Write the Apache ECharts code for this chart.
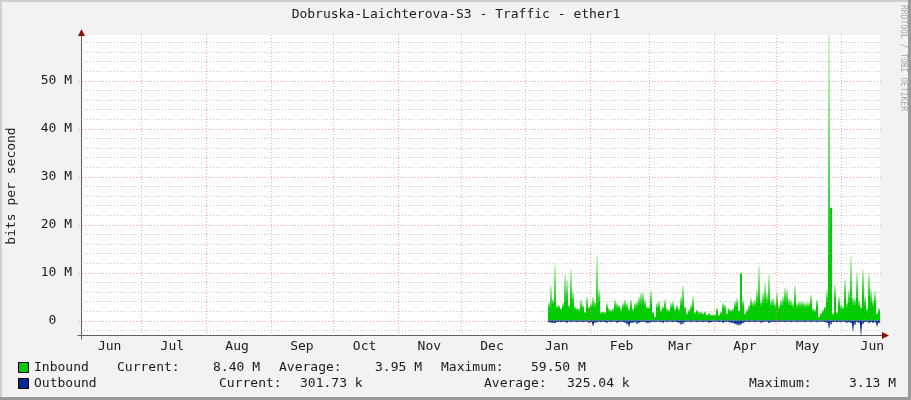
<!DOCTYPE html>
<html><head><meta charset="utf-8">
<script src="https://cdn.jsdelivr.net/npm/echarts@6/dist/echarts.min.js"></script>
<style>html,body{margin:0;padding:0;background:#f2f2f2;}#chart{width:911px;height:400px;}</style>
</head><body><div id="chart"></div>
<script>
// ---------- texts ----------
const chartTitle = 'Dobruska-Laichterova-S3 - Traffic - ether1';
const yAxisTitle = 'bits per second';
const watermark = 'RRDTOOL / TOBI OETIKER';
const monthLabels = ['Jun','Jul','Aug','Sep','Oct','Nov','Dec','Jan','Feb','Mar','Apr','May','Jun'];
const firstLabelYear = 2022, firstLabelMonth = 5; // June 2022, 0-based month

// ---------- axes ----------
const axisStart = Date.UTC(2022, 5, 2, 7);
const axisEnd = Date.UTC(2023, 5, 19, 16);
const yMin = -3, yMax = 59.5;            // in M bits/s
const yMajorTicks = [0, 10, 20, 30, 40, 50];
const yMinorTicks = [-2, 2, 4, 6, 8, 12, 14, 16, 18, 22, 24, 26, 28, 32, 34, 36, 38, 42, 44, 46, 48, 52, 54, 56, 58];

// ---------- samples (M bits/s) ----------
const sampleStart = Date.UTC(2023, 0, 11, 19);
const sampleStepHours = 23;
const inboundPeak = [3.8,7.3,4.5,11.6,3.2,3.3,2.6,3.7,9.6,8.5,3.3,10.6,6.1,3.0,2.6,2.6,4.4,3.3,1.9,5.0,3.0,3.7,5.0,4.0,13.4,6.5,1.9,1.9,1.9,3.7,2.6,2.3,2.6,4.4,3.7,3.3,2.6,3.7,4.4,3.7,2.6,
  4.4,2.6,3.7,4.0,5.0,5.8,5.9,4.4,3.0,3.0,6.3,1.9,0.9,3.7,4.0,2.3,3.0,4.4,2.6,2.3,3.7,4.0,2.6,3.3,2.6,5.0,7.3,3.0,1.6,2.3,3.3,5.0,1.9,2.3,1.9,1.9,1.6,1.9,1.3,1.6,1.3,1.3,1.3,
  2.6,1.3,1.9,3.7,3.3,1.6,2.6,2.3,2.6,4.0,4.7,2.3,10.1,4.4,1.6,2.3,3.3,4.7,4.0,4.4,6.5,11.3,4.4,5.8,7.8,5.8,9.6,4.4,4.7,3.7,5.8,3.3,4.4,5.0,6.8,6.5,4.7,4.4,3.7,7.2,3.7,4.0,4.0,
  4.0,3.7,3.8,3.8,5.4,2.6,2.4,4.4,0.9,1.6,2.3,3.0,6.5,59.5,23.5,1.6,7.5,1.9,5.0,3.3,3.0,8.5,4.0,6.5,13.4,5.0,4.7,9.9,4.4,3.0,10.6,5.0,2.6,9.9,6.5,4.4,6.1,1.6,2.6,8.3];
const inboundSolid = [2.8,3.0,3.6,4.0,2.6,2.7,2.2,2.9,4.2,4.6,2.8,4.8,4.0,2.5,2.2,2.1,2.9,2.6,1.6,3.0,2.4,2.9,3.2,3.0,3.8,4.2,1.5,1.6,1.5,2.6,2.1,1.9,2.1,2.9,2.8,2.6,2.1,2.8,3.0,2.8,2.1,
  3.0,2.1,2.7,3.0,3.4,3.6,3.8,3.2,2.4,2.4,3.6,1.5,0.7,2.6,2.9,1.9,2.4,3.0,2.1,1.9,2.7,2.9,2.1,2.5,2.1,3.3,3.8,2.4,1.3,1.9,2.5,3.0,1.5,1.8,1.5,1.5,1.3,1.5,1.0,1.3,1.0,1.0,1.0,
  2.0,1.0,1.5,2.7,2.5,1.3,2.0,1.8,2.0,2.9,3.2,1.8,9.5,3.0,1.3,1.8,2.5,3.3,3.0,3.1,4.0,4.5,3.1,3.8,4.3,3.8,4.6,3.1,3.3,2.8,3.7,2.5,3.1,3.4,4.2,4.0,3.3,3.1,2.8,4.2,2.8,3.0,3.0,
  3.0,2.8,2.9,2.9,3.6,2.1,1.9,3.1,0.7,1.3,1.8,2.4,4.0,14.0,23.5,1.3,4.5,1.5,3.4,2.5,2.4,4.8,3.0,4.0,5.0,3.4,3.3,5.0,3.1,2.4,5.5,3.4,2.1,5.2,4.0,3.1,3.8,1.3,2.1,5.0];
const outboundPeak = [0.4,0.5,0.6,0.6,0.4,0.3,0.4,0.3,0.4,0.5,0.3,0.4,0.3,0.3,0.4,0.3,0.3,0.4,0.3,0.3,0.5,0.4,1.2,0.5,0.4,0.3,0.4,0.3,0.4,0.5,0.3,0.4,0.3,0.3,0.5,0.4,0.3,0.4,0.5,0.9,1.4,
  0.6,0.5,0.4,0.8,0.5,0.4,0.3,0.4,0.6,0.5,0.4,0.3,0.4,0.3,0.3,0.4,0.5,0.3,0.4,0.3,0.3,0.4,0.3,0.4,0.5,0.9,0.8,0.4,0.3,0.3,0.4,0.3,0.3,0.4,0.3,0.3,0.4,0.3,0.3,0.5,0.4,0.3,0.3,
  0.3,0.4,0.3,0.5,0.4,0.3,0.4,0.5,0.6,0.8,1.0,1.1,0.9,0.6,0.4,0.3,0.4,0.3,0.3,0.4,0.3,0.3,0.5,0.4,0.3,0.3,0.6,0.4,0.3,0.4,0.3,0.4,0.3,0.3,0.4,0.3,0.3,0.4,0.3,0.3,0.4,0.3,0.3,
  0.3,0.4,0.3,0.3,0.4,0.3,0.3,0.4,0.3,0.3,0.3,0.4,0.5,1.7,0.9,0.4,0.3,0.4,0.3,0.4,0.3,0.4,0.5,0.4,0.6,2.3,1.0,0.4,0.5,3.13,0.8,0.4,0.3,0.6,0.4,0.5,0.4,1.3,0.6,0.3];
const outboundSolid = [0.3,0.3,0.4,0.4,0.3,0.2,0.3,0.2,0.3,0.3,0.2,0.3,0.2,0.2,0.3,0.2,0.2,0.3,0.2,0.2,0.3,0.3,0.5,0.3,0.3,0.2,0.3,0.2,0.3,0.3,0.2,0.3,0.2,0.2,0.3,0.3,0.2,0.3,0.3,0.4,0.5,
  0.4,0.3,0.3,0.4,0.3,0.3,0.2,0.3,0.4,0.3,0.3,0.2,0.3,0.2,0.2,0.3,0.3,0.2,0.3,0.2,0.2,0.3,0.2,0.3,0.3,0.4,0.4,0.3,0.2,0.2,0.3,0.2,0.2,0.3,0.2,0.2,0.3,0.2,0.2,0.3,0.3,0.2,0.2,
  0.2,0.3,0.2,0.3,0.3,0.2,0.3,0.3,0.4,0.5,0.6,0.6,0.5,0.4,0.3,0.2,0.3,0.2,0.2,0.3,0.2,0.2,0.3,0.3,0.2,0.2,0.4,0.3,0.2,0.3,0.2,0.3,0.2,0.2,0.3,0.2,0.2,0.3,0.2,0.2,0.3,0.2,0.2,
  0.2,0.3,0.2,0.2,0.3,0.2,0.2,0.3,0.2,0.2,0.2,0.3,0.3,0.6,0.4,0.3,0.2,0.3,0.2,0.3,0.2,0.3,0.3,0.3,0.3,0.7,0.4,0.3,0.3,0.9,0.4,0.3,0.2,0.3,0.3,0.3,0.3,0.5,0.3,0.2];

// ---------- legend ----------
const legendNames = ['Inbound', 'Outbound'];
const legendStats = [
  ['Current:', '8.40 M', 'Average:', '3.95 M', 'Maximum:', '59.50 M'],
  ['Current:', '301.73 k', 'Average:', '325.04 k', 'Maximum:', '3.13 M']
];

// ---------- styling / layout ----------
const FONT = '"DejaVu Sans Mono", "Liberation Mono", monospace';
const inColor = '#00CC00', outColor = '#002A97';
const legendX = [[117, 213, 279, 375, 441, 531], [219, 300, 484, 567, 749, 849]];
const legendY = [368, 384];

const stepMs = sampleStepHours * 3600000;
const inData = inboundPeak.map((v, i) => [sampleStart + i * stepMs, v, inboundSolid[i]]);
const outData = outboundPeak.map((v, i) => [sampleStart + i * stepMs, -v, -outboundSolid[i]]);

function columns(rgb) {
  return function (params, api) {
    const t = api.value(0), peak = api.value(1), solid = api.value(2);
    const a = api.coord([t, 0]);
    const b = api.coord([t + stepMs, solid]);
    const c = api.coord([t + stepMs, peak]);
    const x0 = Math.round(a[0]);
    const w = Math.max(1, Math.round(b[0]) - x0);
    const y0 = a[1], ys = b[1], yp = c[1];
    const up = peak >= 0;
    const strong = 'rgba(' + rgb + ',0.95)', light = 'rgba(' + rgb + ',0.18)';
    const grad = new echarts.graphic.LinearGradient(0, 0, 0, 1, up
      ? [{offset: 0, color: light}, {offset: 1, color: strong}]
      : [{offset: 0, color: strong}, {offset: 1, color: light}]);
    return {
      type: 'group',
      children: [
        {type: 'rect', shape: {x: x0, y: Math.min(y0, ys), width: w, height: Math.abs(ys - y0)}, style: {fill: 'rgb(' + rgb + ')'}},
        {type: 'rect', shape: {x: x0, y: Math.min(ys, yp), width: w, height: Math.abs(yp - ys)}, style: {fill: grad}}
      ]
    };
  };
}

const chart = echarts.init(document.getElementById('chart'), null, {renderer: 'canvas'});
chart.setOption({
  backgroundColor: '#f2f2f2',
  animation: false,
  grid: {left: 81, right: 31, top: 35, bottom: 65, show: true, backgroundColor: '#ffffff', borderWidth: 0},
  xAxis: {
    type: 'value', min: axisStart, max: axisEnd,
    axisLine: {onZero: false, lineStyle: {color: '#606060', width: 1}},
    axisTick: {show: false}, axisLabel: {show: false}, splitLine: {show: false}
  },
  yAxis: {
    type: 'value', min: yMin, max: yMax, interval: 1,
    axisLine: {show: true, lineStyle: {color: '#606060', width: 1}},
    axisTick: {show: false}, splitLine: {show: false},
    axisLabel: {
      margin: 9, fontFamily: FONT, fontSize: 13, color: '#1a1a1a',
      formatter: v => (yMajorTicks.indexOf(v) >= 0 ? (v === 0 ? '0  ' : v + ' M') : '')
    }
  },
  series: [
    {type: 'custom', name: 'Inbound', data: inData, renderItem: columns('0,204,0'), clip: true, z: 2, silent: true},
    {type: 'custom', name: 'Outbound', data: outData, renderItem: columns('0,42,151'), clip: true, z: 3, silent: true}
  ]
});

// ---------- overlay (grid, labels, legend) ----------
const xp = v => chart.convertToPixel({xAxisIndex: 0}, v);
const yp = v => chart.convertToPixel({yAxisIndex: 0}, v);
const L = xp(axisStart), R = xp(axisEnd), T = yp(yMax), B = yp(yMin);
const els = [];
const txt = (x, y, text, opts) => Object.assign({type: 'text', x: x, y: y, silent: true, z: 100,
  style: Object.assign({text: text, font: '13px ' + FONT, fill: '#1a1a1a', align: 'left', verticalAlign: 'middle'}, (opts && opts.style) || {})},
  opts && opts.rotation != null ? {rotation: opts.rotation} : {});

const minorColor = 'rgba(150,150,150,0.5)', majorColor = 'rgba(240,100,100,0.55)';
yMinorTicks.forEach(v => { const y = Math.round(yp(v)) + 0.5;
  els.push({type: 'line', silent: true, z: 60, shape: {x1: L, y1: y, x2: R + 2, y2: y}, style: {stroke: minorColor, lineWidth: 1, lineDash: [1, 2]}}); });
yMajorTicks.forEach(v => { const y = Math.round(yp(v)) + 0.5;
  els.push({type: 'line', silent: true, z: 61, shape: {x1: L - 2, y1: y, x2: R + 2, y2: y}, style: {stroke: majorColor, lineWidth: 1, lineDash: [1, 2]}}); });

for (let i = 0; i < monthLabels.length; i++) {
  const m = firstLabelMonth + i;
  const startT = Date.UTC(firstLabelYear + Math.floor(m / 12), m % 12, 1);
  const midT = Date.UTC(firstLabelYear + Math.floor(m / 12), m % 12, 16);
  if (i > 0) {
    const x = Math.round(xp(startT)) + 0.5;
    els.push({type: 'line', silent: true, z: 61, shape: {x1: x, y1: Math.round(T), x2: x, y2: B + 3}, style: {stroke: majorColor, lineWidth: 1, lineDash: [1, 2]}});
  }
  els.push(txt(xp(midT), B + 12, monthLabels[i], {style: {align: 'center'}}));
}

// axis extensions and arrows
const ax = Math.round(L) + 0.5, ay = Math.round(B) + 0.5;
els.push({type: 'line', silent: true, z: 70, shape: {x1: ax - 4, y1: ay, x2: ax, y2: ay}, style: {stroke: '#606060', lineWidth: 1}});
els.push({type: 'line', silent: true, z: 70, shape: {x1: ax, y1: ay, x2: ax, y2: ay + 4}, style: {stroke: '#606060', lineWidth: 1}});
els.push({type: 'line', silent: true, z: 70, shape: {x1: R, y1: ay, x2: R + 3, y2: ay}, style: {stroke: '#606060', lineWidth: 1}});
els.push({type: 'polygon', silent: true, z: 71, shape: {points: [[ax, T - 6], [ax - 3.5, T + 1], [ax + 3.5, T + 1]]}, style: {fill: '#8b1010'}});
els.push({type: 'polygon', silent: true, z: 71, shape: {points: [[R + 9, ay], [R + 2, ay - 3.5], [R + 2, ay + 3.5]]}, style: {fill: '#8b1010'}});

// title, axis name, watermark
els.push(txt(456, 15, chartTitle, {style: {align: 'center'}}));
els.push(txt(12, 186, yAxisTitle, {rotation: Math.PI / 2, style: {align: 'center'}}));
els.push(txt(903, 5, watermark, {rotation: -Math.PI / 2, style: {font: '8px ' + FONT, fill: '#a8a8a8'}}));

// legend
[inColor, outColor].forEach((c, r) => {
  els.push({type: 'rect', silent: true, z: 100, shape: {x: 18.5, y: legendY[r] - 5.5, width: 10, height: 10}, style: {fill: c, stroke: '#000', lineWidth: 1}});
  els.push(txt(34, legendY[r], legendNames[r]));
  legendStats[r].forEach((s, k) => els.push(txt(legendX[r][k], legendY[r], s)));
});

// 3D frame
els.push({type: 'line', silent: true, z: 120, shape: {x1: 0, y1: 1, x2: 911, y2: 1}, style: {stroke: '#cfcfcf', lineWidth: 2}});
els.push({type: 'line', silent: true, z: 120, shape: {x1: 1, y1: 0, x2: 1, y2: 400}, style: {stroke: '#cfcfcf', lineWidth: 2}});
els.push({type: 'line', silent: true, z: 121, shape: {x1: 909.5, y1: 0, x2: 909.5, y2: 400}, style: {stroke: '#9a9a9a', lineWidth: 3}});
els.push({type: 'line', silent: true, z: 121, shape: {x1: 0, y1: 398.5, x2: 911, y2: 398.5}, style: {stroke: '#9a9a9a', lineWidth: 3}});

chart.setOption({graphic: {elements: els}});
</script>
</body></html>
